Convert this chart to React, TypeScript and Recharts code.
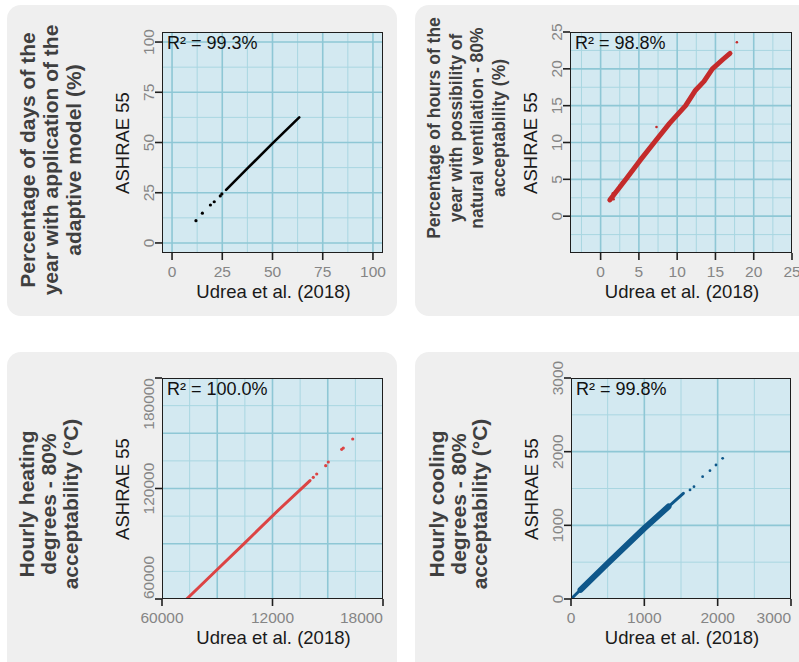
import React from 'react';
import { ScatterChart, Scatter, XAxis, YAxis, CartesianGrid } from 'recharts';

// ---------- values ----------

// A: percentage of days with adaptive model (%)
const daysDotsX = [11.9, 15.1, 19.1, 21.0, 24.0, 24.8];
const daysDotsY = [11.1, 14.8, 18.9, 20.5, 23.4, 24.4];
const daysLineX = [26.9, 38.0, 50.0, 63.3];
const daysLineY = [26.4, 37.6, 49.6, 62.5];

// B: percentage of hours with natural ventilation (%)
const ventBandX = [1.2, 3.3, 5.1, 7.0, 9.0, 11.1, 12.4, 13.5, 14.6, 16.0, 16.9];
const ventBandY = [2.2, 5.0, 7.5, 10.0, 12.6, 15.0, 17.1, 18.3, 20.0, 21.3, 22.1];
const ventDotsX = [1.4, 1.7, 1.6, 1.9, 2.4, 2.5, 2.8, 3.1, 7.3, 17.8];
const ventDotsY = [2.3, 2.3, 3.1, 3.3, 3.6, 4.2, 4.6, 4.8, 12.1, 23.6];

// C: hourly heating degrees
const heatLineX = [7341, 9000, 10500, 12400, 14036];
const heatLineY = [60000, 76000, 90500, 109000, 124300];
const heatDotsX = [14215, 14400, 14888, 15030, 15757, 15844, 16355];
const heatDotsY = [126080, 127880, 132380, 134390, 141290, 141990, 146880];

// D: hourly cooling degrees
const coolLineX = [0, 500, 1000, 1532];
const coolLineY = [0, 485, 960, 1435];
const coolCoreX = [130, 500, 1000, 1330];
const coolCoreY = [125, 485, 960, 1255];
const coolDotsX = [1623, 1677, 1795, 1895, 1977, 2068];
const coolDotsY = [1480, 1525, 1661, 1742, 1819, 1910];

// ticks
const pctTicks = [0, 25, 50, 75, 100];
const ventTicks = [0, 5, 10, 15, 20, 25];
const heatXTicks = [6000, 12000, 18000];
const heatXLabels = ['60000', '12000', '18000'];
const heatYTicks = [60000, 120000, 180000];
const heatYLabels = ['60000', '120000', '180000'];
const coolTicks = [0, 1000, 2000, 3000];

const FONT = '"Liberation Sans", Arial, "DejaVu Sans", sans-serif';
const PANEL_BG = '#d3e9f1';
const GRID_MAJOR = '#8ec7d5';
const GRID_MINOR = '#a9d6e1';
const TICK_GRAY = '#858585';

const zip = (xs: number[], ys: number[]) => xs.map((x, i) => ({ x, y: ys[i] }));

interface Series {
  data: { x: number; y: number }[];
  color: string;
  r?: number;
  width?: number;
}

interface PlotRect {
  left: number;
  top: number;
  width: number;
  height: number;
}

interface PanelProps {
  plot: PlotRect;
  xDomain: [number, number];
  yDomain: [number, number];
  xTicks: number[];
  yTicks: number[];
  xLabels?: string[];
  yLabels?: string[];
  xAnchors?: string[];
  yAnchors?: string[];
  xMajor: number[];
  xMinor: number[];
  yMajor: number[];
  yMinor: number[];
  bands: Series[];
  dots: Series[];
  r2: string;
}

const PAD_L = 60;
const PAD_T = 20;
const PAD_R = 20;
const PAD_B = 40;

function XTick(props: any) {
  const { x, y, payload, index, labels, anchors } = props;
  const text = labels ? labels[index] : String(payload.value);
  return (
    <text x={x} y={y} dy="0.71em" textAnchor={anchors ? anchors[index] : 'middle'}
      fill={TICK_GRAY} fontSize={15.5} fontFamily={FONT}>
      {text}
    </text>
  );
}

function YTick(props: any) {
  const { x, y, payload, index, labels, anchors } = props;
  const text = labels ? labels[index] : String(payload.value);
  return (
    <text x={x} y={y} transform={`rotate(-90 ${x} ${y})`}
      textAnchor={anchors ? anchors[index] : 'middle'}
      fill={TICK_GRAY} fontSize={15.5} fontFamily={FONT}>
      {text}
    </text>
  );
}

function Plot(p: PanelProps) {
  const { plot } = p;
  const w = plot.width + PAD_L + PAD_R;
  const h = plot.height + PAD_T + PAD_B;
  const tickLine = { stroke: '#1e1e1e', strokeWidth: 1.6 };
  return (
    <>
      <div style={{ position: 'absolute', left: plot.left - PAD_L, top: plot.top - PAD_T }}>
        <ScatterChart width={w} height={h}
          margin={{ top: PAD_T, right: PAD_R, bottom: 0, left: 0 }}>
          <CartesianGrid fill={PANEL_BG} stroke={GRID_MINOR} strokeWidth={1}
            verticalValues={p.xMinor} horizontalValues={p.yMinor} />
          <CartesianGrid stroke={GRID_MAJOR} strokeWidth={1.6}
            verticalValues={p.xMajor} horizontalValues={p.yMajor} />
          <XAxis type="number" dataKey="x" domain={p.xDomain} ticks={p.xTicks}
            interval={0} allowDataOverflow height={PAD_B} axisLine={false}
            tickLine={tickLine} tickSize={7} tickMargin={6}
            tick={(t: any) => <XTick {...t} labels={p.xLabels} anchors={p.xAnchors} />} />
          <YAxis type="number" dataKey="y" domain={p.yDomain} ticks={p.yTicks}
            interval={0} allowDataOverflow width={PAD_L} axisLine={false}
            tickLine={tickLine} tickSize={7} tickMargin={1}
            tick={(t: any) => <YTick {...t} labels={p.yLabels} anchors={p.yAnchors} />} />
          {p.bands.map((s, i) => (
            <Scatter key={'b' + i} data={s.data} fill={s.color} isAnimationActive={false}
              line={{ stroke: s.color, strokeWidth: s.width ?? 3, strokeLinecap: 'round', strokeLinejoin: 'round' }}
              shape={() => <g />} />
          ))}
          {p.dots.map((s, i) => (
            <Scatter key={'d' + i} data={s.data} fill={s.color} isAnimationActive={false}
              shape={(d: any) => <circle cx={d.cx} cy={d.cy} r={s.r ?? 1.5} fill={s.color} />} />
          ))}
        </ScatterChart>
      </div>
      <div style={{
        position: 'absolute', left: plot.left, top: plot.top, width: plot.width,
        height: plot.height, border: '1.6px solid #1e1e1e', boxSizing: 'border-box',
      }} />
      <div style={{
        position: 'absolute', left: plot.left + 5, top: plot.top + 1, fontSize: 18,
        lineHeight: '20px', fontFamily: FONT, color: '#111', whiteSpace: 'nowrap',
      }}>{p.r2}</div>
      <div style={{
        position: 'absolute', left: plot.left - 39, top: plot.top + plot.height / 2,
        transform: 'translate(-50%, -50%) rotate(-90deg)', fontSize: 18.5,
        fontFamily: FONT, color: '#1a1a1a', whiteSpace: 'nowrap',
      }}>ASHRAE 55</div>
      <div style={{
        position: 'absolute', left: plot.left + plot.width / 2 + 1, top: plot.top + plot.height + 39,
        transform: 'translate(-50%, -50%)', fontSize: 18.5,
        fontFamily: FONT, color: '#1a1a1a', whiteSpace: 'nowrap',
      }}>Udrea et al. (2018)</div>
    </>
  );
}

function SideTitle({ lines, cx, cy, size, lh }: { lines: string[]; cx: number; cy: number; size: number; lh: number }) {
  return (
    <div style={{
      position: 'absolute', left: cx, top: cy, transform: 'translate(-50%, -50%) rotate(-90deg)',
      fontSize: size, lineHeight: lh + 'px', fontWeight: 700, fontFamily: FONT,
      color: '#3f3f3f', textAlign: 'center', whiteSpace: 'nowrap',
    }}>
      {lines.map((l, i) => <div key={i}>{l}</div>)}
    </div>
  );
}

function Box({ left, top, width, height }: { left: number; top: number; width: number; height: number }) {
  return (
    <div style={{
      position: 'absolute', left, top, width, height, background: '#efefef', borderRadius: 14,
    }} />
  );
}

export default function App() {
  return (
    <div style={{
      position: 'absolute', left: 0, top: 0, width: 799, height: 662,
      overflow: 'hidden', background: '#fff',
    }}>
      <Box left={7} top={5} width={390} height={311} />
      <Box left={415} top={5} width={420} height={311} />
      <Box left={7} top={352} width={390} height={340} />
      <Box left={415} top={352} width={420} height={340} />

      <SideTitle cx={49.5} cy={160} size={21} lh={23}
        lines={['Percentage of days of the', 'year with application of the', 'adaptive model (%)']} />
      <SideTitle cx={466.5} cy={128} size={17.5} lh={21.5}
        lines={['Percentage of hours of the', 'year with possibility of', 'natural ventilation - 80%', 'acceptability (%)']} />
      <SideTitle cx={49} cy={504} size={21} lh={22}
        lines={['Hourly heating', 'degrees - 80%', 'acceptability (°C)']} />
      <SideTitle cx={457.5} cy={504} size={21} lh={21.5}
        lines={['Hourly cooling', 'degrees - 80%', 'acceptability (°C)']} />

      <Plot
        plot={{ left: 162, top: 32, width: 221, height: 221 }}
        xDomain={[-5, 105]} yDomain={[-5, 105]}
        xTicks={pctTicks} yTicks={pctTicks}
        xMajor={[0, 25, 50, 75, 100]} xMinor={[12.5, 37.5, 62.5, 87.5]}
        yMajor={[0, 25, 50, 75, 100]} yMinor={[12.5, 37.5, 62.5, 87.5]}
        bands={[{ data: zip(daysLineX, daysLineY), color: '#000', width: 2.6 }]}
        dots={[{ data: zip(daysDotsX, daysDotsY), color: '#000', r: 1.6 }]}
        r2="R² = 99.3%"
      />
      <Plot
        plot={{ left: 570, top: 32, width: 222, height: 221 }}
        xDomain={[-4, 25]} yDomain={[-5, 25]}
        xTicks={ventTicks} yTicks={ventTicks}
        xMajor={[0, 5, 10, 15, 20]} xMinor={[-2.5, 2.5, 7.5, 12.5, 17.5, 22.5]}
        yMajor={[0, 5, 10, 15, 20]} yMinor={[-2.5, 2.5, 7.5, 12.5, 17.5, 22.5]}
        bands={[{ data: zip(ventBandX, ventBandY), color: '#c42b2b', width: 5 }]}
        dots={[{ data: zip(ventDotsX, ventDotsY), color: '#c42b2b', r: 1.3 }]}
        r2="R² = 98.8%"
      />
      <Plot
        plot={{ left: 162, top: 378, width: 221, height: 221 }}
        xDomain={[6000, 18000]} yDomain={[60000, 180000]}
        xTicks={heatXTicks} yTicks={heatYTicks}
        xLabels={heatXLabels} yLabels={heatYLabels}
        xAnchors={['middle', 'middle', 'end']} yAnchors={['start', 'middle', 'end']}
        xMajor={[9000, 12000, 15000]} xMinor={[7500, 10500, 13500, 16500]}
        yMajor={[90000, 120000, 150000]} yMinor={[75000, 105000, 135000, 165000]}
        bands={[{ data: zip(heatLineX, heatLineY), color: '#dc4444', width: 3 }]}
        dots={[{ data: zip(heatDotsX, heatDotsY), color: '#dc4444', r: 1.6 }]}
        r2="R² = 100.0%"
      />
      <Plot
        plot={{ left: 571, top: 378, width: 220, height: 221 }}
        xDomain={[0, 3000]} yDomain={[0, 3000]}
        xTicks={coolTicks} yTicks={coolTicks}
        xAnchors={['middle', 'middle', 'middle', 'end']}
        xMajor={[1000, 2000]} xMinor={[500, 1500, 2500]}
        yMajor={[1000, 2000]} yMinor={[500, 1500, 2500]}
        bands={[
          { data: zip(coolLineX, coolLineY), color: '#0e578a', width: 3 },
          { data: zip(coolCoreX, coolCoreY), color: '#0e578a', width: 6 },
        ]}
        dots={[{ data: zip(coolDotsX, coolDotsY), color: '#0e578a', r: 1.4 }]}
        r2="R² = 99.8%"
      />
    </div>
  );
}
